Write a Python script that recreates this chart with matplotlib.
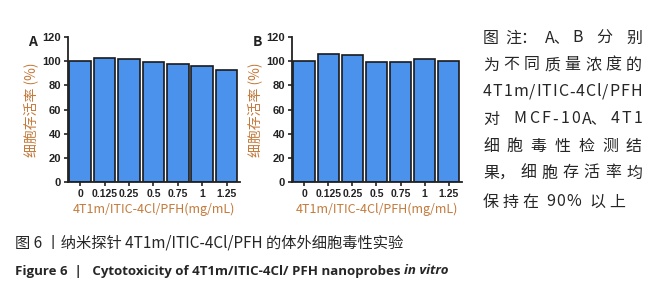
import matplotlib
matplotlib.use("Agg")
import matplotlib.pyplot as plt

plt.rcParams['font.family'] = ['Noto Sans CJK SC', 'DejaVu Sans']

# data
concs = ["0", "0.125", "0.25", "0.5", "0.75", "1", "1.25"]
viab_a = [100, 103, 101.5, 99, 98, 96, 93]
viab_b = [100, 106, 105, 99, 99.4, 101.4, 100.3]
panels = ["A", "B"]
ylabel = "细胞存活率 (%)"
xlabel = "4T1m/ITIC-4Cl/PFH(mg/mL)"
note_lines = ["图注：A、B 分 别", "为不同质量浓度的", "4T1m/ITIC-4Cl/PFH",
              "对 MCF-10A、4T1", "细胞毒性检测结", "果，细胞存活率均", "保持在 90% 以上"]
cap_cn = "图 6 丨纳米探针 4T1m/ITIC-4Cl/PFH 的体外细胞毒性实验"
cap_en = "Figure 6  |   Cytotoxicity of 4T1m/ITIC-4Cl/ PFH nanoprobes "
cap_en_it = "in vitro"

W, H = 658, 300
fig = plt.figure(figsize=(W / 100, H / 100), dpi=100)

bar_col = "#4A92EC"
lab_col = "#C47A3C"
txt_col = "#262626"
tick_font = ['Liberation Sans', 'DejaVu Sans']

boxes = [(68, 240), (292, 462)]
for vals, name, (x0, x1) in zip([viab_a, viab_b], panels, boxes):
    ax = fig.add_axes([x0 / W, 1 - 182 / H, (x1 - x0) / W, (182 - 37) / H])
    ax.bar(range(len(concs)), vals, width=0.88, color=bar_col,
           edgecolor="#1a1a1a", linewidth=1.2)
    ax.set_xlim(-0.5, len(concs) - 0.45)
    ax.set_ylim(0, 120)
    ax.set_yticks([0, 20, 40, 60, 80, 100, 120])
    ax.set_xticks(range(len(concs)))
    ax.set_xticklabels(concs, fontsize=7.5, fontweight="bold", color="#222222",
                       family=tick_font)
    for t in ax.get_yticklabels():
        t.set_fontsize(8)
        t.set_fontweight("bold")
        t.set_color("#222222")
        t.set_family(tick_font)
    for s in ["top", "right"]:
        ax.spines[s].set_visible(False)
    for s in ["left", "bottom"]:
        ax.spines[s].set_linewidth(1.3)
        ax.spines[s].set_color("#222222")
    ax.tick_params(length=3, width=1.2, pad=2, color="#222222")
    ax.set_ylabel(ylabel, fontsize=10, color=lab_col, labelpad=3)
    ax.set_xlabel(xlabel, fontsize=9, color=lab_col, labelpad=3)
    ax.text(-0.23, 0.965, name, transform=ax.transAxes, fontsize=10,
            fontweight="bold", color="#222222", ha="left", va="center")

fig.canvas.draw()
renderer = fig.canvas.get_renderer()

punct = "：、，"


def justify(line, y, xl, xr, size):
    # every char is a token, punctuation sticks to the previous one,
    # a space counts as one extra gap, latin letters sit closer together
    tokens, weights = [], []
    extra = 0
    for ch in line:
        if ch == " ":
            extra += 1
        elif ch in punct and tokens:
            tokens[-1] += ch
        else:
            if tokens:
                tight = ch.isascii() and tokens[-1][0].isascii() and extra == 0
                weights.append((0.3 if tight else 1.0) + extra)
            else:
                weights.append(0)
            tokens.append(ch)
            extra = 0
    texts = [fig.text(0, y / H, t, fontsize=size, color=txt_col,
                      va="center", ha="left") for t in tokens]
    widths = [t.get_window_extent(renderer).width for t in texts]
    gap = (xr - xl - sum(widths)) / max(sum(weights), 1)
    x = xl
    for t, w, k in zip(texts, widths, weights):
        x += k * gap
        t.set_x(x / W)
        x += w


ys = [38, 65, 92, 119, 146, 173, 202]
rights = [642, 642, 642, 642, 642, 642, 625]
for line, y, xr in zip(note_lines, ys, rights):
    justify(line, H - y, 483, xr, 11.5)

fig.text(15 / W, 1 - 243 / H, cap_cn, fontsize=11, color=txt_col,
         va="center", ha="left")
t = fig.text(15 / W, 1 - 271 / H, cap_en, fontsize=9.5, fontweight="bold",
             color=txt_col, va="center", ha="left", family="Open Sans")
bb = t.get_window_extent(renderer)
fig.text(bb.x1 / W, 1 - 271 / H, cap_en_it, fontsize=9.5, fontweight="bold",
         fontstyle="italic", color=txt_col, va="center", ha="left",
         family="Open Sans")

fig.savefig("out.png", dpi=100)
